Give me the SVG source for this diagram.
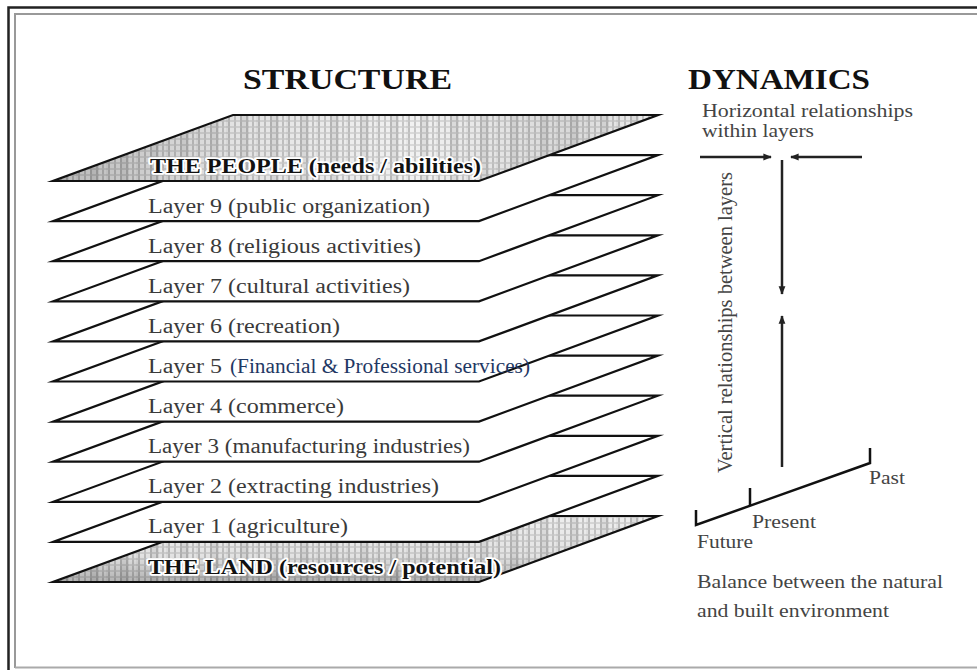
<svg xmlns="http://www.w3.org/2000/svg" width="977" height="670" viewBox="0 0 977 670">
<style>
.layer{fill:#fff;stroke:#111;stroke-width:2.2;stroke-linejoin:miter;stroke-miterlimit:20}
.hatched{stroke:#111;stroke-width:2.2;stroke-linejoin:miter;stroke-miterlimit:20}
.lbl{font-family:"Liberation Serif","Times New Roman",serif;font-size:20px;fill:#3a3a3a}
.bold{font-family:"Liberation Serif","Times New Roman",serif;font-size:20px;font-weight:bold;fill:#111;stroke:#fff;stroke-width:3.5;stroke-linejoin:round;paint-order:stroke}
.blue{font-family:"Liberation Serif","Times New Roman",serif;font-size:20px;fill:#1f3864}
.title{font-family:"Liberation Serif","Times New Roman",serif;font-size:30px;font-weight:bold;fill:#111}
.dyn{font-family:"Liberation Serif","Times New Roman",serif;font-size:18px;fill:#444}
.arr{stroke:#222;stroke-width:2.5;fill:none}
.time{stroke:#111;stroke-width:2.5;fill:none;stroke-linejoin:miter}
</style>
<defs>
<pattern id="check" width="6" height="6" patternUnits="userSpaceOnUse">
<rect width="6" height="6" fill="#f6f6f6"/>
<rect width="2" height="6" fill="#cacaca"/>
<rect width="6" height="2" fill="#d4d4d4" opacity="0.7"/>
</pattern>
<pattern id="stripes" width="30" height="30" patternUnits="userSpaceOnUse">
<rect x="0" y="0" width="9" height="30" fill="#000" opacity="0.07"/>
<rect x="16" y="0" width="4" height="30" fill="#000" opacity="0.04"/>
</pattern>
<linearGradient id="shadeP" x1="53" y1="0" x2="658" y2="0" gradientUnits="userSpaceOnUse">
<stop offset="0" stop-color="#000" stop-opacity="0.25"/>
<stop offset="0.3" stop-color="#000" stop-opacity="0.08"/>
<stop offset="0.6" stop-color="#000" stop-opacity="0.02"/>
<stop offset="0.85" stop-color="#000" stop-opacity="0.12"/>
<stop offset="1" stop-color="#000" stop-opacity="0.03"/>
</linearGradient>
<linearGradient id="shadeL" x1="0" y1="516" x2="0" y2="582" gradientUnits="userSpaceOnUse">
<stop offset="0" stop-color="#000" stop-opacity="0.03"/>
<stop offset="0.6" stop-color="#000" stop-opacity="0.08"/>
<stop offset="1" stop-color="#000" stop-opacity="0.28"/>
</linearGradient>
<marker id="ah" viewBox="0 0 10 10" refX="9" refY="5" markerWidth="3.4" markerHeight="3.4" orient="auto" markerUnits="strokeWidth">
<path d="M0,1 L10,5 L0,9 Z" fill="#222"/>
</marker>
</defs>

<g id="frame">
<path d="M8.5,670 V7.5 H977" fill="none" stroke="#222" stroke-width="2.5"/>
<path d="M15,668 V14 H977" fill="none" stroke="#999" stroke-width="2"/>
<path d="M15,667.5 H977" fill="none" stroke="#aaa" stroke-width="2"/>
</g>

<g id="titles">
<text class="title" x="243" y="89" textLength="209" lengthAdjust="spacingAndGlyphs">STRUCTURE</text>
<text class="title" x="688" y="89" textLength="182" lengthAdjust="spacingAndGlyphs">DYNAMICS</text>
</g>

<g id="land">
<polygon points="233,516 658,516 479,582 53,582" fill="url(#check)"/>
<polygon points="233,516 658,516 479,582 53,582" fill="url(#stripes)"/>
<polygon points="233,516 658,516 479,582 53,582" fill="url(#shadeL)" class="hatched"/>
<text class="bold" x="148" y="573.5" textLength="353" lengthAdjust="spacingAndGlyphs">THE LAND (resources / potential)</text>
</g>
<g id="layer1">
<polygon class="layer" points="233,475.9 658,475.9 479,541.9 53,541.9"/>
<text class="lbl" x="148" y="533.4" textLength="200" lengthAdjust="spacingAndGlyphs">Layer 1 (agriculture)</text>
</g>
<g id="layer2">
<polygon class="layer" points="233,435.8 658,435.8 479,501.8 53,501.8"/>
<text class="lbl" x="148" y="493.3" textLength="291" lengthAdjust="spacingAndGlyphs">Layer 2 (extracting industries)</text>
</g>
<g id="layer3">
<polygon class="layer" points="233,395.7 658,395.7 479,461.7 53,461.7"/>
<text class="lbl" x="148" y="453.2" textLength="322" lengthAdjust="spacingAndGlyphs">Layer 3 (manufacturing industries)</text>
</g>
<g id="layer4">
<polygon class="layer" points="233,355.6 658,355.6 479,421.6 53,421.6"/>
<text class="lbl" x="148" y="413.1" textLength="196" lengthAdjust="spacingAndGlyphs">Layer 4 (commerce)</text>
</g>
<g id="layer5">
<polygon class="layer" points="233,315.5 658,315.5 479,381.5 53,381.5"/>
<text class="lbl" x="148" y="373" textLength="74" lengthAdjust="spacingAndGlyphs">Layer 5</text>
<text class="blue" x="230" y="373" textLength="300" lengthAdjust="spacingAndGlyphs">(Financial &amp; Professional services)</text>
</g>
<g id="layer6">
<polygon class="layer" points="233,275.4 658,275.4 479,341.4 53,341.4"/>
<text class="lbl" x="148" y="332.9" textLength="192" lengthAdjust="spacingAndGlyphs">Layer 6 (recreation)</text>
</g>
<g id="layer7">
<polygon class="layer" points="233,235.3 658,235.3 479,301.3 53,301.3"/>
<text class="lbl" x="148" y="292.8" textLength="262" lengthAdjust="spacingAndGlyphs">Layer 7 (cultural activities)</text>
</g>
<g id="layer8">
<polygon class="layer" points="233,195.2 658,195.2 479,261.2 53,261.2"/>
<text class="lbl" x="148" y="252.7" textLength="273" lengthAdjust="spacingAndGlyphs">Layer 8 (religious activities)</text>
</g>
<g id="layer9">
<polygon class="layer" points="233,155.1 658,155.1 479,221.1 53,221.1"/>
<text class="lbl" x="148" y="212.6" textLength="282" lengthAdjust="spacingAndGlyphs">Layer 9 (public organization)</text>
</g>
<g id="people">
<polygon points="233,115 658,115 479,181 53,181" fill="url(#check)"/>
<polygon points="233,115 658,115 479,181 53,181" fill="url(#stripes)"/>
<polygon points="233,115 658,115 479,181 53,181" fill="url(#shadeP)" class="hatched"/>
<text class="bold" x="150" y="172.5" textLength="331" lengthAdjust="spacingAndGlyphs">THE PEOPLE (needs / abilities)</text>
</g>

<g id="dynamics-labels">
<text class="dyn" x="702" y="117" textLength="211" lengthAdjust="spacingAndGlyphs">Horizontal relationships</text>
<text class="dyn" x="702" y="137" textLength="112" lengthAdjust="spacingAndGlyphs">within layers</text>
<text class="dyn" transform="translate(732,473) rotate(-90) scale(1,1.15)" x="0" y="0" textLength="301" lengthAdjust="spacingAndGlyphs" style="font-size:19px">Vertical relationships between layers</text>
<text class="dyn" x="869" y="484" textLength="36" lengthAdjust="spacingAndGlyphs">Past</text>
<text class="dyn" x="752" y="528" textLength="64" lengthAdjust="spacingAndGlyphs">Present</text>
<text class="dyn" x="697" y="548" textLength="56" lengthAdjust="spacingAndGlyphs">Future</text>
<text class="dyn" x="697" y="588" textLength="246" lengthAdjust="spacingAndGlyphs">Balance between the natural</text>
<text class="dyn" x="697" y="617" textLength="192" lengthAdjust="spacingAndGlyphs">and built environment</text>
</g>

<g id="connectors">
<line class="arr" x1="700" y1="157" x2="771" y2="157" marker-end="url(#ah)"/>
<line class="arr" x1="862" y1="157" x2="791" y2="157" marker-end="url(#ah)"/>
<line class="arr" x1="782" y1="160" x2="782" y2="294" marker-end="url(#ah)"/>
<line class="arr" x1="782" y1="467" x2="782" y2="316" marker-end="url(#ah)"/>
<polyline class="time" points="696,510 696,525 870,463 870,448"/>
<line class="time" x1="750" y1="488" x2="750" y2="506"/>
</g>
</svg>
